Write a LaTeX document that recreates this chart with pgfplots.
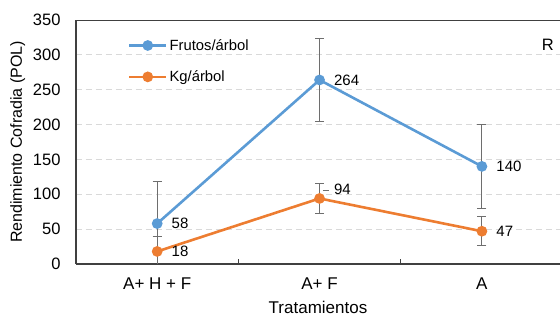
\documentclass[border=0pt]{standalone}
\usepackage{fontspec}
\setmainfont{Liberation Sans}
\usepackage{pgfplots}
\usepackage{pgfplotstable}
\pgfplotsset{compat=1.18}
\definecolor{cblue}{HTML}{5B9BD5}
\definecolor{corange}{HTML}{ED7D31}
\definecolor{axgray}{HTML}{404040}
\definecolor{gridgray}{HTML}{D9D9D9}
\definecolor{errgray}{HTML}{6E6E6E}
\pgfplotstableread{
x y err dy
0 58 60 0
1 264 60 0
2 140 60 0
}\frutos
\pgfplotstableread{
x y err dy
0 18 22 0
1 94 21 9
2 47 21 0
}\kg
\begin{document}
\begin{tikzpicture}
\begin{axis}[
  scale only axis,
  width=484pt, height=244pt,
  xmin=-0.5, xmax=2.481,
  ymin=0, ymax=350,
  ytick={0,50,...,350},
  xtick={0,1,2},
  xticklabels={A+ H + F, A+ F, A},
  extra x ticks={0.5,1.5},
  extra x tick labels={},
  extra x tick style={major tick length=5pt, tick style={axgray, line width=0.9pt}},
  major tick length=0pt,
  axis lines*=left,
  axis line style={axgray, line width=1.1pt},
  ymajorgrids,
  grid style={gridgray, dash pattern=on 6pt off 4pt, line width=0.9pt},
  font=\fontsize{15}{17}\selectfont,
  /pgf/number format/assume math mode=true,
  yticklabel style={xshift=-12pt, font=\fontsize{16.5}{18}\selectfont},
  xticklabel style={yshift=-10pt, font=\fontsize{17}{19}\selectfont},
  ylabel={Rendimiento Cofradia (POL)},
  ylabel style={font=\fontsize{16}{18}\selectfont, yshift=1pt},
  xlabel={Tratamientos},
  xlabel style={font=\fontsize{17}{19}\selectfont, yshift=-5pt},
  legend style={at={(0.107,0.93)}, anchor=north west, draw=none, fill=none,
    font=\fontsize{14.8}{17}\selectfont, row sep=15pt, inner sep=0pt},
  legend cell align=left,
  legend image code/.code={
    \draw[#1, mark repeat=2, mark phase=2] plot coordinates {(0pt,0pt) (18.5pt,0pt) (37pt,0pt)};
  },
  every node near coord/.append style={font=\fontsize{15}{17}\selectfont, black, anchor=west, xshift=11pt},
]
\addplot[cblue, line width=2.6pt, mark=*, mark size=4pt,
  error bars/.cd, y dir=both, y explicit,
  error bar style={errgray, line width=1pt},
  error mark options={errgray, rotate=90, mark size=4.5pt, line width=1pt}]
  table[x=x, y=y, y error=err] {\frutos};
\addlegendentry{Frutos/árbol}
\addplot[corange, line width=2.6pt, mark=*, mark size=4pt,
  error bars/.cd, y dir=both, y explicit,
  error bar style={errgray, line width=1pt},
  error mark options={errgray, rotate=90, mark size=4.5pt, line width=1pt}]
  table[x=x, y=y, y error=err] {\kg};
\addlegendentry{Kg/árbol}
% data labels
\addplot[draw=none, mark=none, nodes near coords, point meta=explicit symbolic, forget plot]
  table[x=x, y=y, meta=y] {\frutos};
\addplot[draw=none, mark=none, nodes near coords, point meta=explicit symbolic, forget plot,
  visualization depends on={\thisrow{dy} \as \dy},
  every node near coord/.append style={yshift=\dy pt}]
  table[x=x, y=y, meta=y] {\kg};
\draw[axgray, line width=1.1pt] (rel axis cs:0,1) -- (rel axis cs:1,1);
\draw[errgray, line width=0.8pt] (axis cs:1.02,106) -- (axis cs:1.06,106);
\node[font=\fontsize{16.5}{18}\selectfont] at (rel axis cs:0.975,0.898) {R};
\end{axis}
\pgfresetboundingbox
\path (-76pt,-54pt) rectangle (484pt,264pt);
\end{tikzpicture}
\end{document}
